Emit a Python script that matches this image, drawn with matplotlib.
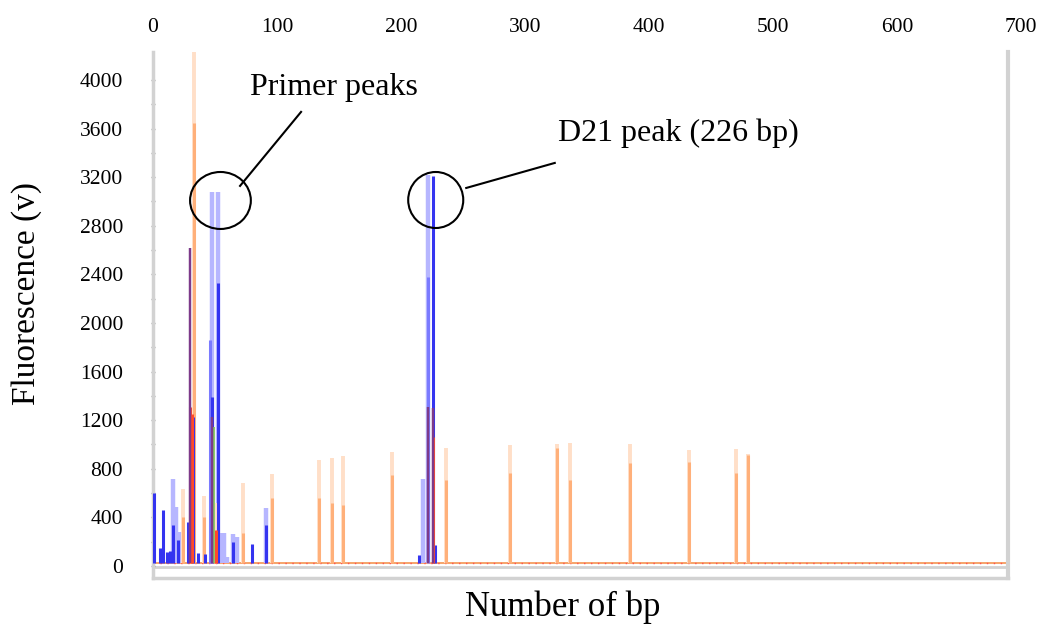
import matplotlib
matplotlib.use("Agg")
import matplotlib.pyplot as plt
import matplotlib.transforms as mtransforms
from matplotlib.patches import Ellipse

plt.rcParams["font.family"] = ["Liberation Serif", "DejaVu Serif"]

# Top size scale (bp) and fluorescence scale
bp_ticks = [0, 100, 200, 300, 400, 500, 600, 700]
fl_ticks = [0, 400, 800, 1200, 1600, 2000, 2400, 2800, 3200, 3600, 4000]

D21_BP = 226

# Blue dye channel: faint overlay trace
blue_light_bp = [16, 18.5, 22, 47.6, 52.4, 54, 57, 59.7, 64.5, 67.7, 91, 218, 221.5]
blue_light_fl = [716, 486, 280, 3078, 3078, 270, 270, 74, 263, 240, 477, 716, 3218]

# Blue dye channel: medium trace
blue_mid_bp = [46, 221.5]
blue_mid_fl = [1860, 2379]

# Blue dye channel: solid trace
blue_bp = [0.5, 5.6, 8, 11, 14, 16, 20, 28, 32, 36, 42, 47.6, 52.4, 64.5, 80, 91,
           214.7, 226, 227.2]
blue_fl = [600, 150, 460, 115, 120, 337, 214, 362, 1226, 107, 100, 1391, 2329, 197,
           181, 337, 90, 3210, 173]

# Orange size standard: faint and solid parts of each peak
orange_bp = [24, 33, 41, 51.6, 72.6, 96, 134, 144, 153, 193,
             236, 288, 326, 336, 385, 432, 470, 480]
orange_top = [634, 4300, 576, 518, 683, 757, 872, 889, 905, 938,
              971, 996, 1004, 1012, 1004, 955, 963, 922]
orange_mid = [400, 3646, 400, 300, 270, 560, 560, 518, 502, 749,
              708, 765, 971, 708, 848, 856, 765, 914]

# Red, purple and green dye channels
red_bp = [30, 31.5, 50.5, 226]
red_fl = [1309, 1250, 300, 1062]
purple_bp = [30, 47.6, 221.5, 226]
purple_fl = [2617, 1226, 1309, 1300]
green_bp = [30, 49, 226]
green_fl = [1350, 1144, 1150]

BASELINE = 25

W, H = 1041, 625
fig = plt.figure(figsize=(W / 100, H / 100), dpi=100)
ax = fig.add_axes([153 / W, 1 - 578 / H, (1008 - 153) / W, (578 - 52) / H])
ax.set_xlim(0, 689.5)
ax.set_ylim(-99, 4230)

# baseline of the traces
ax.plot([0, 689.5], [BASELINE, BASELINE], color="#f6a46a", lw=1.4, zorder=2)
ax.plot([0, 689.5], [BASELINE, BASELINE], color="#ff5050", lw=1.0,
        ls=(0, (1, 4)), zorder=2)

lw = 2.2
ax.vlines(blue_light_bp, BASELINE, blue_light_fl, color="#b6b6ff", lw=lw + 1.0, zorder=3)
ax.vlines(orange_bp, BASELINE, orange_top, color="#ffdfc8", lw=lw + 0.6, zorder=3)
ax.vlines(orange_bp, BASELINE, orange_mid, color="#ffb07a", lw=lw, zorder=4)
ax.vlines(blue_mid_bp, BASELINE, blue_mid_fl, color="#7a7aff", lw=lw, zorder=4)
ax.vlines(blue_bp, BASELINE, blue_fl, color="#3434f0", lw=lw, zorder=5)
ax.vlines(red_bp, BASELINE, red_fl, color="#ff4a2a", lw=lw, zorder=6)
ax.vlines(purple_bp, BASELINE, purple_fl, color="#7d3a8a", lw=lw * 0.8, zorder=6)
ax.vlines(green_bp, BASELINE, green_fl, color="#86c95c", lw=lw * 0.6, zorder=5)

# frame
ax.spines["top"].set_visible(False)
for side, lwid in (("left", 2.5), ("right", 3.0), ("bottom", 2.5)):
    ax.spines[side].set_color("#d2d2d2")
    ax.spines[side].set_linewidth(lwid)
ax.axhline(-5, color="#d2d2d2", lw=2.0, zorder=1)

ax.set_xticks([])
ax.set_yticks(fl_ticks)
ax.set_yticks(range(200, 4200, 400), minor=True)
ax.tick_params(axis="y", which="both", direction="inout", length=3, width=1,
               color="#9a9a9a", pad=20, labelsize=15.5)

trans = mtransforms.blended_transform_factory(ax.transData, ax.transAxes)
for v in bp_ticks:
    ax.text(v, 1.047, str(v), transform=trans, ha="center", va="center",
            fontsize=15.5, clip_on=False)

# annotations
ax.add_patch(Ellipse((54.4, 3008), 49, 469, fill=False, ec="black", lw=1.5, zorder=8))
ax.plot([70.2, 119.4], [3128, 3737], color="black", lw=1.5, zorder=8)
ax.text(78.2, 3934, "Primer peaks", fontsize=23, ha="left", va="center")

ax.add_patch(Ellipse((D21_BP + 2, 3012), 44.4, 461, fill=False, ec="black", lw=1.5, zorder=8))
ax.plot([D21_BP + 26.6, 324], [3111, 3317], color="black", lw=1.5, zorder=8)
ax.text(326.6, 3564, "D21 peak (226 bp)", fontsize=23, ha="left", va="center")

fig.text(27 / W, 1 - 294 / H, "Fluorescence (v)", rotation=90, ha="center",
         va="center", fontsize=24)
fig.text(563 / W, 1 - 607 / H, "Number of bp", ha="center", va="center", fontsize=25)

fig.savefig("out.png", dpi=100)
